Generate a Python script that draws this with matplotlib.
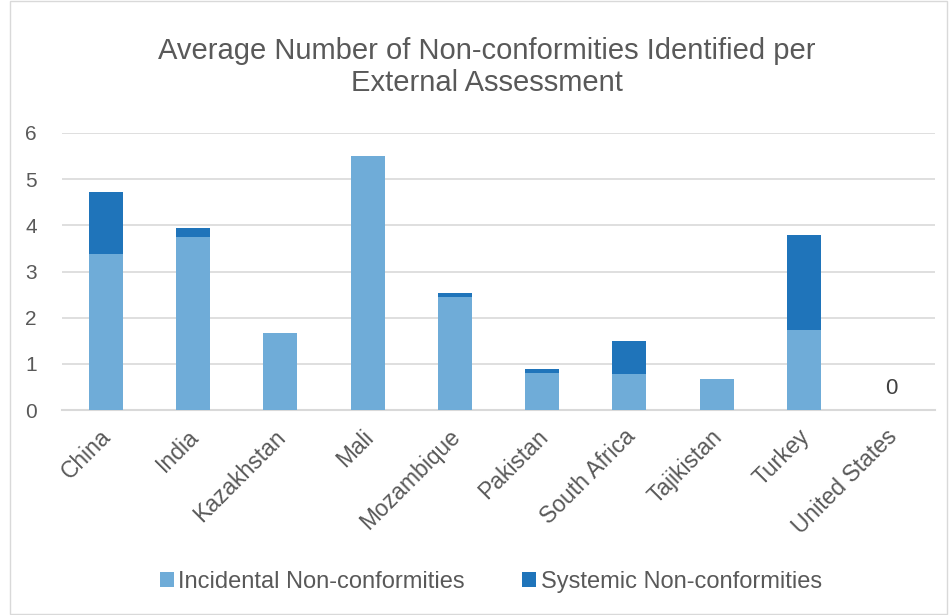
import numpy as np
import matplotlib.pyplot as plt
import matplotlib.transforms as mtransforms
from matplotlib.patches import Rectangle

# values
countries = ["China", "India", "Kazakhstan", "Mali", "Mozambique",
             "Pakistan", "South Africa", "Tajikistan", "Turkey", "United States"]
incidental = [3.38, 3.74, 1.67, 5.50, 2.45, 0.81, 0.79, 0.67, 1.73, 0.0]
systemic = [1.34, 0.20, 0.0, 0.0, 0.09, 0.08, 0.71, 0.0, 2.06, 0.0]
yticks = [0, 1, 2, 3, 4, 5, 6]

plt.rcParams['font.family'] = ['Liberation Sans', 'DejaVu Sans']
text_col = '#595959'
c_inc = '#6FACD8'
c_sys = '#1F74BA'

fig = plt.figure(figsize=(9.49, 6.15), dpi=100)
ax = fig.add_axes([62 / 949, 1 - 410 / 615, (935 - 62) / 949, (410 - 133) / 615])

x = np.arange(len(countries))
ax.bar(x, incidental, width=0.39, color=c_inc, label='Incidental Non-conformities', zorder=3)
ax.bar(x, systemic, width=0.39, bottom=incidental, color=c_sys,
       label='Systemic Non-conformities', zorder=3)

# data label for the empty last category
total = np.array(incidental) + np.array(systemic)
ax.annotate(f"{total[-1]:.0f}", (x[-1], total[-1]), xytext=(0, 8),
            textcoords='offset points', ha='center', va='bottom',
            fontsize=16, color='#404040')

ax.set_xlim(-0.5, len(countries) - 0.5)
ax.set_ylim(0, 6)
ax.set_yticks(yticks)
ax.grid(axis='y', color='#D9D9D9', linewidth=1.2, zorder=0)
for s in ['top', 'right', 'left']:
    ax.spines[s].set_visible(False)
ax.spines['bottom'].set_color('#D9D9D9')
ax.spines['bottom'].set_linewidth(1.5)
ax.tick_params(axis='both', length=0, colors=text_col)
ax.tick_params(axis='y', pad=18, labelsize=15)
ax.set_xticks(x)
ax.set_xticklabels(countries, rotation=45, ha='right', va='top',
                   rotation_mode='anchor', fontsize=16.5)
ax.tick_params(axis='x', pad=11)
# nudge the slanted labels a little to the left
shift = mtransforms.ScaledTranslation(-6 / 100, 0, fig.dpi_scale_trans)
for lab in ax.get_xticklabels():
    lab.set_transform(lab.get_transform() + shift)

fig.text(0.513, 1 - 67 / 615, "Average Number of Non-conformities Identified per\nExternal Assessment",
         ha='center', va='center', fontsize=21, color=text_col, linespacing=1.2)

fig.legend(loc='center', bbox_to_anchor=(0.517, 1 - 582 / 615), ncol=2, frameon=False,
           fontsize=17, labelcolor=text_col, handlelength=0.6, handleheight=0.6,
           handletextpad=0.2, columnspacing=2.4)

fig.patches.append(Rectangle((0.011, 0.002), 0.987, 0.996, transform=fig.transFigure,
                             fill=False, edgecolor='#D9D9D9', linewidth=1))

fig.savefig('out.png', dpi=100)
